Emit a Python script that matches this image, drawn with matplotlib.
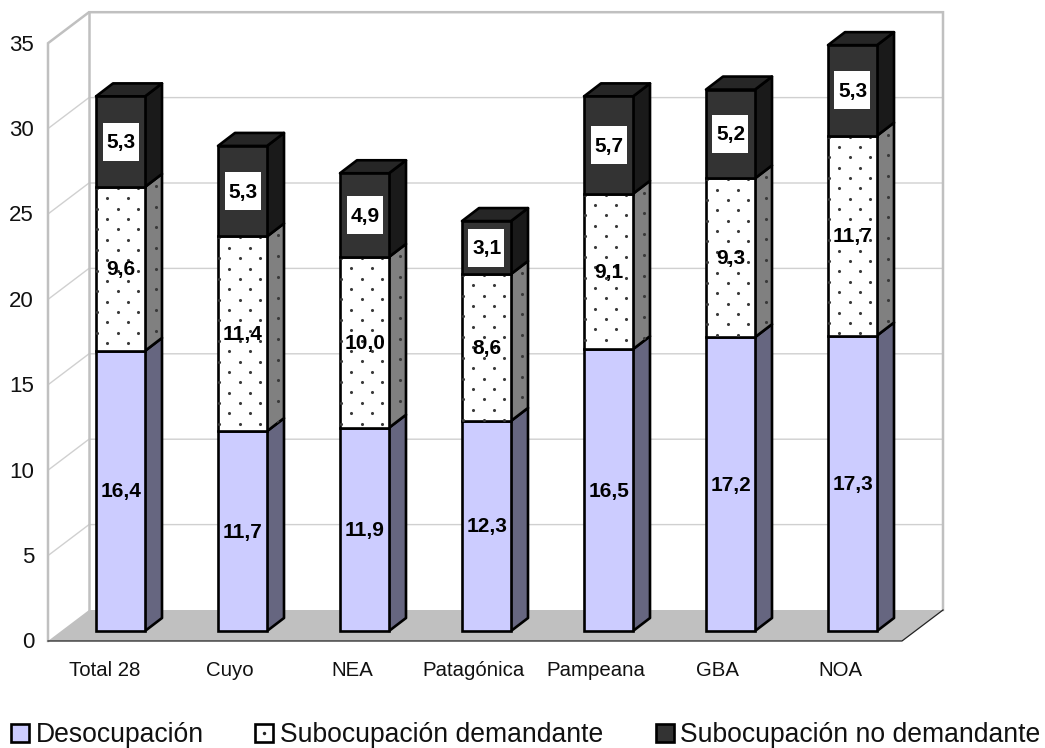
#!/usr/bin/env python3
# Barras apiladas con perspectiva tipo Excel 3D
import numpy as np
import matplotlib
matplotlib.use("Agg")
import matplotlib.pyplot as plt
from matplotlib.patches import Polygon, Rectangle

plt.rcParams["font.family"] = ["Liberation Sans", "DejaVu Sans"]

# ----------------------------------------------------------
# DATOS
# ----------------------------------------------------------
CATEGORIES = ["Total 28", "Cuyo", "NEA", "Patagónica", "Pampeana", "GBA", "NOA"]
DESOCUPACION = [16.4, 11.7, 11.9, 12.3, 16.5, 17.2, 17.3]
SUB_DEMANDANTE = [9.6, 11.4, 10.0, 8.6, 9.1, 9.3, 11.7]
SUB_NO_DEMANDANTE = [5.3, 5.3, 4.9, 3.1, 5.7, 5.2, 5.3]
DECIMAL_LABELS = [
    ["16,4", "11,7", "11,9", "12,3", "16,5", "17,2", "17,3"],
    ["9,6", "11,4", "10,0", "8,6", "9,1", "9,3", "11,7"],
    ["5,3", "5,3", "4,9", "3,1", "5,7", "5,2", "5,3"],
]
SERIES_NAMES = ["Desocupación", "Subocupación demandante", "Subocupación no demandante"]
Y_TICKS = [0, 5, 10, 15, 20, 25, 30, 35]

# ----------------------------------------------------------
# GEOMETRIA (pixeles de la imagen)
# ----------------------------------------------------------
W, H = 1045, 748
X_STEP = 122.0     # px entre categorias
Y_UNIT = 17.08     # px por unidad
X0_PX = 120.5      # centro de la primera barra
Y0_PX = 631.0      # base de las barras
BAR_W = 49.0
BAR_DX, BAR_DY = 17.0, 13.0      # profundidad de la barra
WALL_L, WALL_R = 48.0, 902.0     # pared frontal
WALL_DX, WALL_DY = 41.0, 31.0    # profundidad del piso
FRONT_Y = 641.0
DOT_STEP = 20.7
BAR_LW = 1.9

FRONT = ["#ccccff", "#ffffff", "#333333"]
SIDE = ["#666680", "#808080", "#1a1a1a"]
TOP = ["#9999bf", "#c0c0c0", "#262626"]
GRID = "#d0d0d0"
WALL = "#c0c0c0"
TEXT = "#111111"


def px(x):
    return (x - X0_PX) / X_STEP


def py(y):
    return (Y0_PX - y) / Y_UNIT


def dots(ax, xs, ys, clip, z):
    sc = ax.scatter(xs, ys, s=5, color="#3a3a3a", linewidths=0, zorder=z)
    sc.set_clip_path(clip)


def front_lattice(left, seg_top, seg_bottom):
    pts = []
    for shift in (0.0, DOT_STEP / 2):
        for xp in np.arange(left + 1 + shift, left + BAR_W, DOT_STEP):
            for yp in np.arange(seg_top + 1 + shift, seg_bottom, DOT_STEP):
                pts.append((xp, yp))
    return np.array(pts)


def draw_walls(ax):
    back_l = WALL_L + WALL_DX
    back_r = WALL_R + WALL_DX
    back_y = FRONT_Y - WALL_DY
    top_back = back_y - 35 * Y_UNIT
    top_front = FRONT_Y - 35 * Y_UNIT

    for v in Y_TICKS[1:-1]:
        yb = back_y - v * Y_UNIT
        yf = FRONT_Y - v * Y_UNIT
        ax.plot([px(WALL_L), px(back_l), px(back_r)], [py(yf), py(yb), py(yb)],
                color=GRID, lw=1.0, zorder=1)

    floor = [(WALL_L, FRONT_Y), (WALL_R, FRONT_Y), (back_r, back_y), (back_l, back_y)]
    ax.add_patch(Polygon([(px(a), py(b)) for a, b in floor], closed=True,
                         facecolor="#c0c0c0", edgecolor="none", zorder=1.5))
    ax.plot([px(WALL_L), px(WALL_L), px(back_l), px(back_r), px(back_r)],
            [py(FRONT_Y), py(top_front), py(top_back), py(top_back), py(back_y)],
            color=WALL, lw=1.8, zorder=2, solid_joinstyle="miter")
    ax.plot([px(back_l), px(back_l)], [py(top_back), py(back_y)],
            color=WALL, lw=1.8, zorder=2)
    ax.plot([px(WALL_L), px(WALL_R), px(back_r)],
            [py(FRONT_Y), py(FRONT_Y), py(back_y)],
            color="#222222", lw=0.9, zorder=2.5)


def draw_bars(ax):
    dx = BAR_DX / X_STEP
    dy = BAR_DY / Y_UNIT
    half = BAR_W / X_STEP / 2
    xs = np.arange(len(CATEGORIES))
    series = [DESOCUPACION, SUB_DEMANDANTE, SUB_NO_DEMANDANTE]
    bottoms = np.zeros(len(xs))

    for s, vals in enumerate(series):
        vals = np.array(vals)
        z = 3 + s
        ax.bar(xs, vals, width=2 * half, bottom=bottoms, facecolor=FRONT[s],
               edgecolor="black", linewidth=BAR_LW, zorder=z + 0.2)
        for i, x in enumerate(xs):
            b, t = bottoms[i], bottoms[i] + vals[i]
            r = x + half
            side = Polygon([(r, b), (r + dx, b + dy), (r + dx, t + dy), (r, t)], closed=True,
                           facecolor=SIDE[s], edgecolor="black", linewidth=BAR_LW,
                           joinstyle="round", zorder=z)
            ax.add_patch(side)
            if s == 2:
                ax.add_patch(Polygon([(r - 2 * half, t), (r - 2 * half + dx, t + dy),
                                      (r + dx, t + dy), (r, t)], closed=True,
                                     facecolor=TOP[s], edgecolor="black", linewidth=BAR_LW,
                                     joinstyle="round", zorder=z))
            if s == 1:
                left_px = X0_PX + x * X_STEP - BAR_W / 2
                top_px = Y0_PX - t * Y_UNIT
                bottom_px = Y0_PX - b * Y_UNIT
                pts = front_lattice(left_px, top_px, bottom_px)
                clip = Rectangle((x - half, b), 2 * half, t - b, transform=ax.transData)
                dots(ax, px(pts[:, 0]), py(pts[:, 1]), clip, z + 0.3)
                side_y = np.arange(top_px - 1, bottom_px, DOT_STEP)
                side_clip = Polygon(side.get_xy(), closed=True, transform=ax.transData)
                dots(ax, np.full(side_y.shape, r + 11 / X_STEP), py(side_y), side_clip, z + 0.1)
            # la etiqueta va centrada en el frente del segmento
            mid = (b + t) / 2
            base_y = mid - 6.5 / Y_UNIT
            if s == 2:
                ax.add_patch(Rectangle((x - 18 / X_STEP, mid - 19 / Y_UNIT),
                                       36 / X_STEP, 38 / Y_UNIT,
                                       facecolor="white", edgecolor="none", zorder=9))
            ax.text(x + 0.5 / X_STEP, base_y, DECIMAL_LABELS[s][i], ha="center", va="baseline",
                    fontsize=15, fontweight="bold", color="black", zorder=10)
        bottoms = bottoms + vals


def draw_axis_text(ax):
    for v in Y_TICKS:
        ax.text(px(34), py(FRONT_Y - v * Y_UNIT + 7.5), str(v), ha="right", va="baseline",
                fontsize=16, color=TEXT)
    for i, name in enumerate(CATEGORIES):
        x_lab = X0_PX + i * X_STEP - 12.5
        if i == 0:
            x_lab -= 3
        ax.text(px(x_lab), py(676), name, ha="center", va="baseline",
                fontsize=14.7, color=TEXT)


def draw_legend(ax):
    swatches = [11, 255, 656]
    text_x = [36, 280, 680]
    for s, name in enumerate(SERIES_NAMES):
        x0 = swatches[s]
        ax.add_patch(Rectangle((px(x0), py(742)), 18 / X_STEP, 18 / Y_UNIT,
                               facecolor=FRONT[s], edgecolor="black", linewidth=BAR_LW,
                               zorder=5, clip_on=False))
        if s == 1:
            ax.scatter([px(x0 + 9)], [py(733)], s=6, color="#222222", linewidths=0, zorder=6)
        ax.text(px(text_x[s]), py(742), name, ha="left", va="baseline",
                fontsize=19.1, color=TEXT)


def main():
    fig = plt.figure(figsize=(W / 100, H / 100), dpi=100)
    ax = fig.add_axes([0, 0, 1, 1])
    ax.set_xlim(px(0), px(W))
    ax.set_ylim(py(H), py(0))
    ax.axis("off")

    draw_walls(ax)
    draw_bars(ax)
    draw_axis_text(ax)
    draw_legend(ax)

    fig.savefig("out.png", dpi=100)
    plt.close(fig)


if __name__ == "__main__":
    main()
